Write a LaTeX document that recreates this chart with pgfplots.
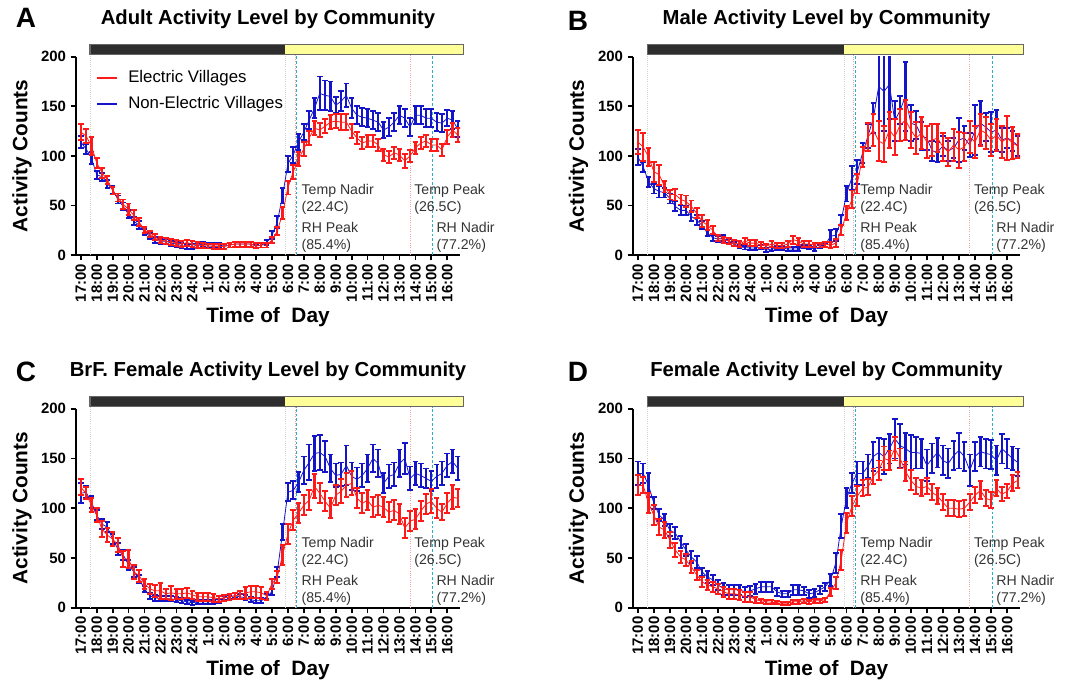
\documentclass[border=0pt]{standalone}
\usepackage{pgfplots}
\usepackage{pgfplotstable}
\pgfplotsset{compat=1.18}
\usepackage{fontspec}
\setmainfont{Liberation Sans}
\definecolor{ered}{HTML}{FF1A1A}
\definecolor{nblue}{HTML}{1414C8}
\definecolor{nightc}{HTML}{2E2E2E}
\definecolor{dayc}{HTML}{FFFF99}
\definecolor{pinkl}{HTML}{F2A0A0}
\definecolor{cyanl}{HTML}{2AAFC8}
\definecolor{annc}{HTML}{333333}

\pgfplotstableread{
i r re b be
0 124 8 114 6
1 120 7 107 5
2 110 9 98 6
3 93 5 81 4
4 83 5 79 4
5 76 4 72 4
6 65 4 66 4
7 58 4 56 4
8 51 5 49 4
9 46 6 41 4
10 40 5 34 4
11 33 4 30 4
12 25 3 23.5 3
13 21 3 19 3
14 18 3 15 3
15 15 3 14 2.5
16 14 3 14 2.5
17 13.5 3 12 2.5
18 12 3 11 2.5
19 11 3 9.5 2.5
20 12.5 3 8.5 2.5
21 11 3 8.5 2.5
22 10 3 10 2.5
23 9.5 2.5 11 2.5
24 9 2.5 10 2.5
25 8.5 2.5 10 2.5
26 8.5 2.5 10 2.5
27 8.5 2.5 9 2.5
28 10 2.5 10 2.5
29 11 2.5 11 2.5
30 11 2.5 11 2.5
31 11 2.5 11 2.5
32 11 2.5 11 2.5
33 9.5 2.5 9 2.5
34 10 2.5 10 2.5
35 10 2.5 12.5 2.5
36 15 3 20 4
37 24 4 33 6
38 42 6 60 8
39 68 7 92 8
40 84 7 101 8
41 97 7 114 8
42 107 7 124 8
43 118 7 136 9
44 128 7 148 10
45 126 7 163 17
46 130 7 161 15
47 134 7 160 15
48 135 7 151 8
49 134 8 155 10
50 134 8 161 12
51 125 7 148 10
52 118 6 141 9
53 113 6 139 9
54 115 6 138 9
55 115 6 136 9
56 111 6 134 9
57 101 6 126 8
58 99 6 129 9
59 103 6 134 9
60 101 6 141 9
61 95 7 138 9
62 100 6 129 9
63 108 6 141 9
64 113 6 141 9
65 115 6 138 9
66 111 6 138 9
67 111 6 134 9
68 106 6 133 9
69 119 7 138 8
70 126 7 136 9
71 121 7 127 8
}\datA

\pgfplotstableread{
i r re b be
0 114 12 99 8
1 109 14 89 5
2 99 9 74 5
3 84 10 67 5
4 81 10 64 6
5 69 6 63 5
6 61 5 57 5
7 61 6 49 5
8 56 5 45 5
9 54 6 45 5
10 49 6 39 5
11 42 5 35 5
12 34 6 30 4
13 30 5 22 3
14 25 4 17.5 3
15 17 3 16 3
16 15.5 3 17 3
17 14 3 14 2
18 12 3 11 2
19 11 3 8.5 2
20 14 3 7.5 2
21 12 3 7 2
22 12 3 7 2
23 10 3 8 2
24 9 2.5 5 2
25 11 3 6 2
26 9.5 2.5 7 2
27 9.5 2.5 7 2
28 11 3 6 2
29 15.5 4 6 2
30 14 3.5 6 2
31 11 3 8.5 2
32 11 3 8 2
33 10 2.5 6 2
34 10 2.5 8.5 2
35 11 2.5 10 2.5
36 10 3 19 6
37 12 4 20 6
38 25 5 35 5
39 42 7 62 8
40 56 9 78 12
41 72 10 84 12
42 99 10 103 10
43 119 14 120 12
44 126 16 138 15
45 115 20 170 35
46 112 18 165 40
47 126 18 172 35
48 119 18 135 20
49 131 16 146 14
50 136 20 160 35
51 126 18 133 18
52 118 16 131 14
53 123 16 120 14
54 114 16 118 12
55 116 16 105 10
56 118 14 104 10
57 109 14 110 10
58 104 14 105 10
59 111 16 108 10
60 106 18 116 22
61 109 14 118 12
62 119 16 111 12
63 114 16 126 25
64 126 16 133 22
65 123 16 129 14
66 116 16 124 20
67 121 16 126 20
68 114 16 116 12
69 118 22 118 10
70 113 16 115 10
71 110 12 110 10
}\datB

\pgfplotstableread{
i r re b be
0 121 8 115 10
1 115 6 116 6
2 103 7 106 6
3 93 7 93 5
4 79 8 84 5
5 73 7 81 5
6 69 7 69 5
7 63 7 59 6
8 49 8 53 5
9 49 9 43 5
10 36 7 36 5
11 32 6 29 4
12 24 5 19 3
13 19 5 12 3
14 17 6 10 3
15 17 8 9 2.5
16 14 5 9 2.5
17 15 7 9 2.5
18 14 5 8 2.5
19 14 5 7 2.5
20 15 5 6 2
21 13 4 5 2
22 11 4 6 2
23 11 4 6 2
24 11 4 6 2
25 10 4 6 2
26 9 3 7 2
27 10 3 10 2
28 11 3 11 2
29 12 3 12 2.5
30 13 4 11 2.5
31 15 6 10 2.5
32 16 6 8 2.5
33 16 6 7 2.5
34 15 6 7 2.5
35 12 4 11 2.5
36 24 5 16 3
37 31 6 36 5
38 53 10 76 8
39 74 10 116 9
40 88 10 118 9
41 95 10 126 10
42 103 10 138 14
43 108 10 146 18
44 122 12 155 18
45 115 10 156 18
46 107 10 152 16
47 100 10 140 14
48 113 10 133 12
49 117 12 134 12
50 123 12 143 20
51 125 12 132 14
52 110 10 129 12
53 105 10 133 12
54 108 10 140 14
55 101 10 150 14
56 103 10 145 14
57 101 10 125 10
58 96 10 132 12
59 98 10 134 12
60 94 10 145 14
61 80 10 150 16
62 87 10 130 12
63 89 10 135 12
64 97 10 133 12
65 104 10 130 10
66 107 12 127 10
67 100 10 132 12
68 96 8 135 12
69 105 10 143 12
70 111 12 147 12
71 110 9 140 12
}\datC

\pgfplotstableread{
i r re b be
0 123 10 135 12
1 123 8 135 10
2 105 10 123 12
3 93 10 105 6
4 81 8 93 6
5 78 8 88 6
6 68 8 78 6
7 58 7 75 6
8 51 6 66 6
9 48 6 58 6
10 41 6 51 6
11 33 5 46 6
12 26 5 36 4
13 23 5 31 6
14 21 5 28 5
15 19 5 23 5
16 16 5 19 6
17 14 5 18 5
18 14 5 18 5
19 13 5 18 5
20 11 5 16 5
21 11 5 17 5
22 8 3 19 5
23 7 2 21 5
24 6 2 21 5
25 5.5 2 21 5
26 5 1.5 16 4
27 4.5 1.5 14 3
28 4.5 1.5 14 3
29 6 2 18 5
30 6 2 18 5
31 7 2 17 4
32 6 2 14 4
33 7 2 15 4
34 7 2 18 4
35 8 2 21 4
36 16 4 28 6
37 25 6 45 10
38 48 10 82 12
39 85 10 110 10
40 102 10 125 10
41 112 10 135 12
42 120 8 135 12
43 121 8 142 12
44 132 8 152 15
45 138 10 156 15
46 150 12 152 18
47 148 10 160 15
48 160 12 170 20
49 150 10 163 22
50 137 10 160 16
51 128 10 156 18
52 122 8 156 16
53 120 8 155 15
54 122 8 143 16
55 116 8 150 15
56 112 8 156 15
57 106 8 148 15
58 100 8 145 15
59 100 8 153 15
60 99 8 158 18
61 100 8 152 15
62 106 8 138 16
63 113 8 152 15
64 118 9 157 15
65 110 8 155 15
66 108 8 154 15
67 120 8 148 15
68 114 7 160 15
69 117 7 155 15
70 125 8 150 12
71 128 8 146 14
}\datD

\pgfplotsset{
  panel/.style={
    scale only axis, width=288pt, height=148.7pt,
    xmin=-0.3, xmax=23.8, ymin=0, ymax=200,
    axis x line*=bottom, axis y line*=left,
    axis line style={line width=1.6pt, -},
    tick align=outside, major tick length=4pt,
    tick style={line width=1.3pt, black},
    xtick={0,...,23},
    xticklabels={17:00,18:00,19:00,20:00,21:00,22:00,23:00,24:00,1:00,2:00,3:00,4:00,5:00,6:00,7:00,8:00,9:00,10:00,11:00,12:00,13:00,14:00,15:00,16:00},
    xticklabel style={rotate=90, anchor=east, font=\bfseries\fontsize{11.2}{12}\selectfont, inner sep=2.5pt},
    ytick={0,50,100,150,200},
    yticklabel style={font=\bfseries\fontsize{11.2}{12}\selectfont},
    /pgf/number format/assume math mode=true,
    clip mode=individual,
    xlabel={Time of~ Day}, ylabel={Activity Counts},
    xlabel style={at={(axis description cs:0.5,-0.3127)}, anchor=center, font=\bfseries\fontsize{15.6}{18}\selectfont},
    ylabel style={at={(axis description cs:-0.1406,0.5)}, anchor=center, font=\bfseries\fontsize{15.6}{18}\selectfont},
  },
  bluep/.style={nblue, no marks, line width=0.6pt, forget plot,
    error bars/.cd, y dir=both, y explicit,
    error bar style={line width=1.7pt},
    error mark options={rotate=90, mark size=2.1pt, line width=1.4pt}},
  redp/.style={ered, no marks, line width=0.6pt, forget plot,
    error bars/.cd, y dir=both, y explicit,
    error bar style={line width=1.7pt},
    error mark options={rotate=90, mark size=2.1pt, line width=1.4pt}},
}

\newcommand{\deco}{%
  \draw[gray!35, densely dotted, line width=0.6pt] (axis cs:0.58,0) -- (axis cs:0.58,202);
  \draw[gray!35, densely dotted, line width=0.6pt] (axis cs:12.84,0) -- (axis cs:12.84,202);
  \draw[pinkl, densely dotted, line width=0.7pt] (axis cs:13.45,0) -- (axis cs:13.45,202);
  \draw[pinkl, densely dotted, line width=0.7pt] (axis cs:20.67,0) -- (axis cs:20.67,202);
  \draw[cyanl, dashed, dash pattern=on 2pt off 1.5pt, line width=0.7pt] (axis cs:13.55,0) -- (axis cs:13.55,202);
  \draw[cyanl, dashed, dash pattern=on 2pt off 1.5pt, line width=0.7pt] (axis cs:22.1,0) -- (axis cs:22.1,202);
  \fill[nightc] (axis cs:0.58,202) rectangle (axis cs:12.84,212);
  \fill[dayc] (axis cs:12.84,202) rectangle (axis cs:24.0,212);
  \draw[gray!80!black, line width=0.8pt] (axis cs:0.58,202) rectangle (axis cs:24.0,212);
  \begin{scope}[every node/.style={anchor=west, align=left, inner sep=0pt, text=annc, font=\fontsize{10.6}{13}\selectfont}]
    \node at (axis cs:13.84,56) {Temp Nadir\\(22.4C)};
    \node at (axis cs:13.84,17.6) {RH Peak\\(85.4\%)};
    \node at (axis cs:20.92,56) {Temp Peak\\(26.5C)};
    \node at (axis cs:22.31,17.6) {RH Nadir\\(77.2\%)};
  \end{scope}
}
\newcommand{\ptitle}[1]{\node[anchor=center, font=\bfseries\fontsize{15.2}{18}\selectfont] at (axis description cs:0.5,1.19) {#1};}
\newcommand{\pletter}[3]{\node[font=\bfseries\fontsize{21}{24}\selectfont] at (axis description cs:#1,#2) {#3};}

\begin{document}
\begin{tikzpicture}
\useasboundingbox (0,0) rectangle (807.75pt,-513pt);

% Panel A
\begin{axis}[panel, at={(57pt,-191.25pt)}, anchor=south west]
\deco
\addplot[bluep] table[x expr=\thisrow{i}/3, y=b, y error=be] {\datA};
\addplot[redp] table[x expr=\thisrow{i}/3, y=r, y error=re] {\datA};
% legend
\draw[ered, line width=1pt] (axis description cs:0.0547,0.8926) -- (axis description cs:0.1068,0.8926);
\draw[nblue, line width=1pt] (axis description cs:0.0547,0.7615) -- (axis description cs:0.1068,0.7615);
\node[anchor=west, inner sep=0pt, font=\fontsize{12.6}{15}\selectfont] at (axis description cs:0.1354,0.8926) {Electric Villages};
\node[anchor=west, inner sep=0pt, font=\fontsize{12.6}{15}\selectfont] at (axis description cs:0.1354,0.7615) {Non-Electric Villages};
\ptitle{Adult Activity Level by Community}
\pletter{-0.130}{1.195}{A}
\end{axis}

% Panel B
\begin{axis}[panel, width=290.25pt, at={(474.75pt,-191.25pt)}, anchor=south west]
\deco
\addplot[bluep] table[x expr=\thisrow{i}/3, y=b, y error=be] {\datB};
\addplot[redp] table[x expr=\thisrow{i}/3, y=r, y error=re] {\datB};
\ptitle{Male Activity Level by Community}
\pletter{-0.142}{1.18}{B}
\end{axis}

% Panel C
\begin{axis}[panel, height=149.25pt, at={(57pt,-455.8pt)}, anchor=south west]
\deco
\addplot[bluep] table[x expr=\thisrow{i}/3, y=b, y error=be] {\datC};
\addplot[redp] table[x expr=\thisrow{i}/3, y=r, y error=re] {\datC};
\ptitle{BrF. Female Activity Level by Community}
\pletter{-0.130}{1.184}{C}
\end{axis}

% Panel D
\begin{axis}[panel, width=290.25pt, height=149.25pt, at={(474.75pt,-455.8pt)}, anchor=south west]
\deco
\addplot[bluep] table[x expr=\thisrow{i}/3, y=b, y error=be] {\datD};
\addplot[redp] table[x expr=\thisrow{i}/3, y=r, y error=re] {\datD};
\ptitle{Female Activity Level by Community}
\pletter{-0.142}{1.184}{D}
\end{axis}
\end{tikzpicture}
\end{document}
